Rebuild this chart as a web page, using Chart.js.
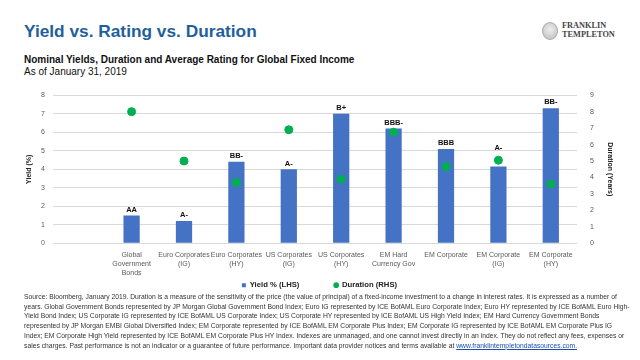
<!DOCTYPE html>
<html>
<head>
<meta charset="utf-8">
<script src="https://cdn.jsdelivr.net/npm/chart.js@4/dist/chart.umd.min.js"></script>
<style>
  body { margin: 0; width: 640px; height: 360px; background: #fff; font-family: "Liberation Sans", Arial, sans-serif; position: relative; overflow: hidden; }
  #title { position: absolute; left: 24px; top: 21px; font-size: 17.3px; font-weight: bold; color: #1f5f9c; }
  #sub1 { position: absolute; left: 24px; top: 54px; font-size: 10px; font-weight: bold; color: #111; }
  #sub2 { position: absolute; left: 24px; top: 66px; font-size: 10px; color: #111; }
  #logo { position: absolute; left: 542px; top: 22px; }
  #logo .icon { position: absolute; left: 0; top: 0; width: 14px; height: 16px; border-radius: 50%; border: 1px solid #aaa; background: radial-gradient(circle at 50% 40%, #eee, #bbb); }
  #logo .txt { position: absolute; left: 20px; top: 0; font-family: "Liberation Serif", serif; font-weight: bold; font-size: 8.3px; line-height: 8.6px; color: #444; white-space: nowrap; }
  #grafico { position: absolute; left: 0; top: 78px; width: 640px; height: 221px; }
  #notes { position: absolute; left: 24px; top: 292px; font-size: 6.75px; line-height: 9.7px; color: #333; white-space: nowrap; }
  #notes a { color: #1a4fb0; text-decoration: underline; }
</style>
</head>
<body>
<div id="title">Yield vs. Rating vs. Duration</div>
<div id="sub1">Nominal Yields, Duration and Average Rating for Global Fixed Income</div>
<div id="sub2">As of January 31, 2019</div>
<div id="logo"><div class="icon"></div><div class="txt">FRANKLIN<br>TEMPLETON</div></div>
<div id="grafico"><canvas id="miGrafico"></canvas></div>
<div id="notes">
Source: Bloomberg, January 2019. Duration is a measure of the sensitivity of the price (the value of principal) of a fixed-income investment to a change in interest rates. It is expressed as a number of<br>
years. Global Government Bonds represented by JP Morgan Global Government Bond Index; Euro IG represented by ICE BofAML Euro Corporate Index; Euro HY represented by ICE BofAML Euro High-<br>
Yield Bond Index; US Corporate IG represented by ICE BofAML US Corporate Index; US Corporate HY represented by ICE BofAML US High Yield Index; EM Hard Currency Government Bonds<br>
represented by JP Morgan EMBI Global Diversified Index; EM Corporate represented by ICE BofAML EM Corporate Plus Index; EM Corporate IG represented by ICE BofAML EM Corporate Plus IG<br>
Index; EM Corporate High Yield represented by ICE BofAML EM Corporate Plus HY Index. Indexes are unmanaged, and one cannot invest directly in an index. They do not reflect any fees, expenses or<br>
sales charges. Past performance is not an indicator or a guarantee of future performance. Important data provider notices and terms available at <a>www.franklintempletondatasources.com.</a>
</div>
<script>
// first category is left empty, as in the original
const categorias = ['', ['Global', 'Government', 'Bonds'], ['Euro Corporates', '(IG)'], ['Euro Corporates', '(HY)'],
  ['US Corporates', '(IG)'], ['US Corporates', '(HY)'], ['EM Hard', 'Currency Gov'], 'EM Corporate',
  ['EM Corporate', '(IG)'], ['EM Corporate', '(HY)']];
const rendimiento = [null, 1.5, 1.2, 4.4, 4.0, 7.0, 6.2, 5.1, 4.15, 7.3];
const duracion = [null, 8.0, 5.0, 3.7, 6.9, 3.9, 6.75, 4.65, 5.05, 3.6];
const calificacion = ['', 'AA', 'A-', 'BB-', 'A-', 'B+', 'BBB-', 'BBB', 'A-', 'BB-'];

const ticksIzq = { min: 0, max: 8, step: 1 };
const ticksDer = { min: 0, max: 9, step: 1 };

Chart.defaults.font.family = '"Liberation Sans", Arial, sans-serif';

// ratings above each bar (moved above the dot when the dot sits just over the bar)
const etiquetas = {
  id: 'etiquetas',
  afterDatasetsDraw(chart) {
    const ctx = chart.ctx;
    const barras = chart.getDatasetMeta(0).data;
    const puntos = chart.getDatasetMeta(1).data;
    ctx.save();
    ctx.font = 'bold 7.5px "Liberation Sans", Arial, sans-serif';
    ctx.fillStyle = '#111';
    ctx.textAlign = 'center';
    ctx.textBaseline = 'bottom';
    barras.forEach((bar, i) => {
      if (!calificacion[i]) return;
      let y = bar.y - 2;
      const p = puntos[i];
      if (p && p.y < bar.y && bar.y - p.y < 15) y = p.y - 9;
      ctx.fillText(calificacion[i], bar.x, y);
    });
    ctx.restore();
  }
};

const ctx = document.getElementById('miGrafico').getContext('2d');
new Chart(ctx, {
  data: {
    labels: categorias,
    datasets: [{
      type: 'bar',
      label: 'Yield % (LHS)',
      data: rendimiento,
      backgroundColor: '#4472c4',
      categoryPercentage: 1,
      barPercentage: 0.31,
      yAxisID: 'y',
      order: 2,
      pointStyle: 'rect'
    }, {
      type: 'line',
      label: 'Duration (RHS)',
      data: duracion,
      showLine: false,
      pointRadius: 4,
      pointBackgroundColor: '#00b050',
      pointBorderColor: '#00b050',
      backgroundColor: '#00b050',
      borderColor: '#00b050',
      yAxisID: 'y2',
      order: 1,
      pointStyle: 'circle'
    }]
  },
  options: {
    responsive: true,
    maintainAspectRatio: false,
    animation: false,
    layout: { padding: { left: 21, right: 22, top: 9, bottom: 0 } },
    plugins: {
      tooltip: { enabled: false },
      legend: {
        position: 'bottom',
        labels: {
          usePointStyle: true,
          boxWidth: 4,
          boxHeight: 4,
          padding: 4,
          color: '#222',
          font: { size: 7.7, weight: 'bold' },
          sort: (a, b) => a.datasetIndex - b.datasetIndex,
          // wider gap after the first item, no outline on the markers
          generateLabels: (chart) => Chart.defaults.plugins.legend.labels.generateLabels(chart).map((it) => {
            if (it.datasetIndex === 0) it.text = it.text + '\u2003\u2003\u2003\u2003';
            it.lineWidth = 0;
            return it;
          })
        }
      }
    },
    scales: {
      x: {
        grid: { display: false, drawTicks: false },
        border: { display: false },
        ticks: { color: '#595959', font: { size: 7, lineHeight: 1.29 }, maxRotation: 0, autoSkip: false, padding: 7 },
        afterFit: (s) => { s.height = 34; }
      },
      y: {
        position: 'left',
        min: ticksIzq.min,
        max: ticksIzq.max,
        ticks: { stepSize: ticksIzq.step, color: '#595959', font: { size: 7 }, padding: 8 },
        grid: { color: '#d9d9d9', drawTicks: false },
        border: { display: false },
        title: { display: true, text: 'Yield (%)', color: '#222', font: { size: 7, weight: 'bold' }, padding: { top: 4, bottom: 4 } },
        afterFit: (s) => { s.width = 32; }
      },
      y2: {
        position: 'right',
        min: ticksDer.min,
        max: ticksDer.max,
        ticks: { stepSize: ticksDer.step, color: '#595959', font: { size: 7 }, padding: 13 },
        grid: { display: false, drawTicks: false },
        border: { display: false },
        title: { display: true, text: 'Duration (Years)', color: '#222', font: { size: 7, weight: 'bold' }, padding: { top: 4, bottom: 4 } },
        afterFit: (s) => { s.width = 41; }
      }
    }
  },
  plugins: [etiquetas]
});
</script>
</body>
</html>
